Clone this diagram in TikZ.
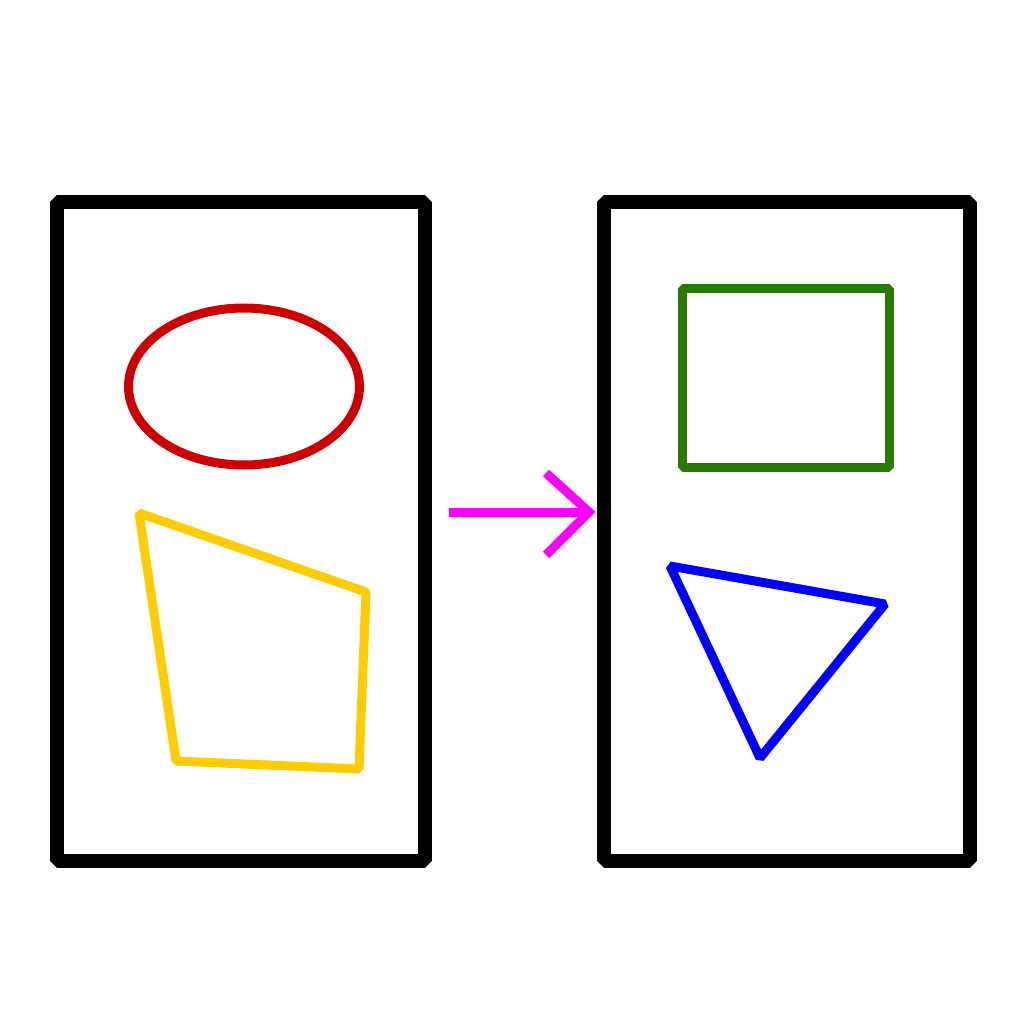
\documentclass[tikz,border=0pt]{standalone}
\begin{document}
\begin{tikzpicture}[x=1pt,y=-1pt,line join=bevel,
  frame/.style={draw=black,line width=14pt},
  outl/.style={line width=9pt}]
\useasboundingbox (0,0) rectangle (1024,1024);
\definecolor{cred}{RGB}{204,0,0}
\definecolor{cyel}{RGB}{255,204,0}
\definecolor{cgrn}{RGB}{43,122,0}
\definecolor{cblu}{RGB}{0,0,255}
\definecolor{cmag}{RGB}{255,0,255}
% frames
\draw[frame] (57,202) rectangle (425,861);
\draw[frame] (604,202) rectangle (970,861);
% left shapes
\draw[outl,cred] (244,386.5) ellipse [x radius=115.5, y radius=78.5];
\draw[outl,cyel] (139,513) -- (366,592) -- (359,769) -- (176,761) -- cycle;
% right shapes
\draw[outl,cgrn] (682,288) rectangle (889,467);
\draw[outl,cblu] (670,566) -- (885,604) -- (760,758) -- cycle;
% arrow
\coordinate (tip) at (589,512);
\draw[outl,cmag] (449,512) -- (tip);
\draw[outl,cmag,line join=miter] (546,473) -- (tip) -- (546,555);
\end{tikzpicture}
\end{document}
